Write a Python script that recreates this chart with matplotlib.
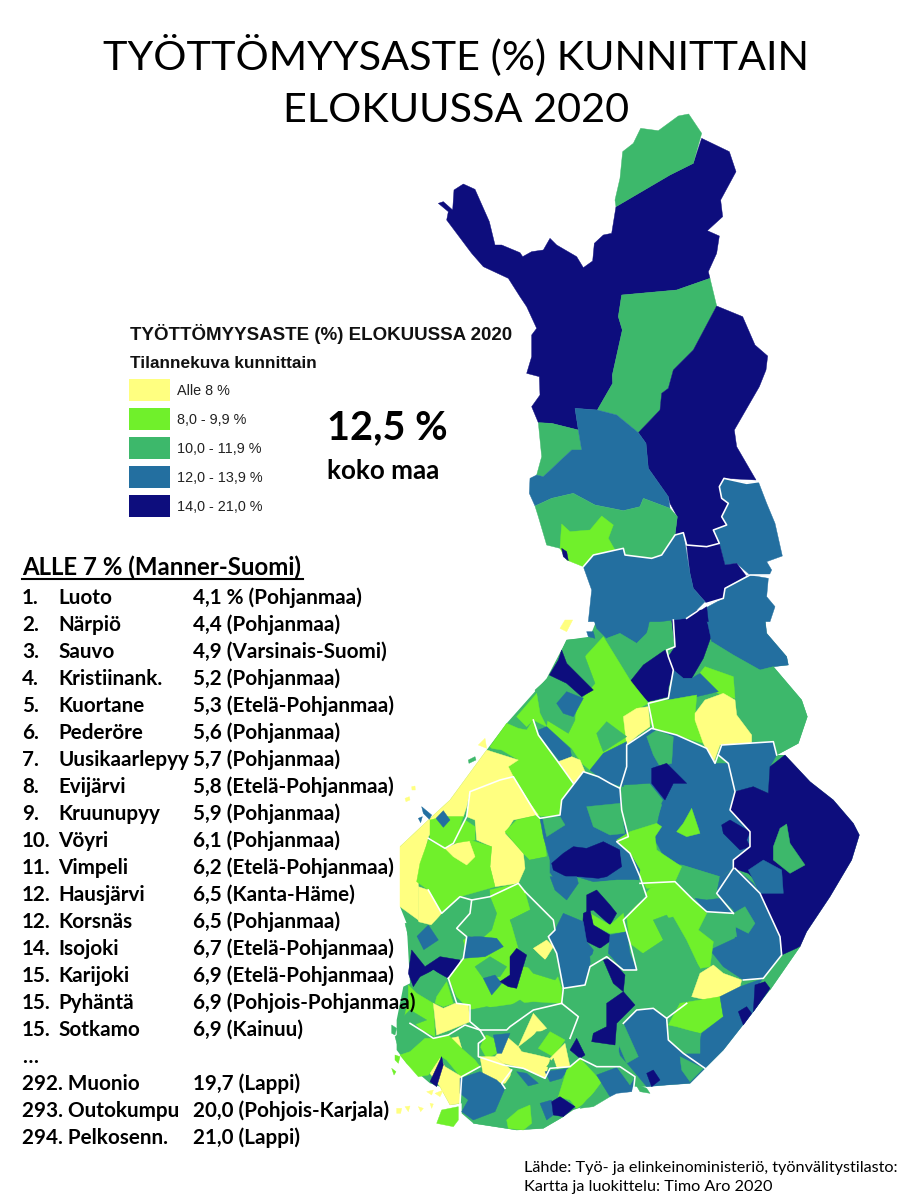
import matplotlib
matplotlib.use("Agg")
import matplotlib.pyplot as plt
from matplotlib.patches import Rectangle

# ---------- data ----------
TITLE = ["TYÖTTÖMYYSASTE (%) KUNNITTAIN", "ELOKUUSSA 2020"]
CLASS_LABELS = ["Alle 8 %", "8,0 - 9,9 %", "10,0 - 11,9 %", "12,0 - 13,9 %", "14,0 - 21,0 %"]
CLASS_COLORS = ["#FFFF80", "#70F02B", "#3DB86B", "#236FA0", "#0D0D7D"]
Y, B, G, L, N = 0, 1, 2, 3, 4

RANKS = ["1.", "2.", "3.", "4.", "5.", "6.", "7.", "8.", "9.", "10.", "11.", "12.", "12.", "14.", "15.", "15.", "15."]
TOWNS = ["Luoto", "Närpiö", "Sauvo", "Kristiinank.", "Kuortane", "Pederöre", "Uusikaarlepyy", "Evijärvi",
         "Kruunupyy", "Vöyri", "Vimpeli", "Hausjärvi", "Korsnäs", "Isojoki", "Karijoki", "Pyhäntä", "Sotkamo"]
RATES = ["4,1 % (Pohjanmaa)", "4,4 (Pohjanmaa)", "4,9 (Varsinais-Suomi)", "5,2 (Pohjanmaa)", "5,3 (Etelä-Pohjanmaa)",
         "5,6 (Pohjanmaa)", "5,7 (Pohjanmaa)", "5,8 (Etelä-Pohjanmaa)", "5,9 (Pohjanmaa)", "6,1 (Pohjanmaa)",
         "6,2 (Etelä-Pohjanmaa)", "6,5 (Kanta-Häme)", "6,5 (Pohjanmaa)", "6,7 (Etelä-Pohjanmaa)",
         "6,9 (Etelä-Pohjanmaa)", "6,9 (Pohjois-Pohjanmaa)", "6,9 (Kainuu)"]
WORST_NAMES = ["292. Muonio", "293. Outokumpu", "294. Pelkosenn."]
WORST_RATES = ["19,7 (Lappi)", "20,0 (Pohjois-Karjala)", "21,0 (Lappi)"]

# Map areas, in paint order: (rate class, outline)
NORTH_AREAS = [
 (N, [(115,310),(130,305),(158,330),(162,270),(190,252),(225,268),(268,365),(285,435),(305,435),(360,458),(368,470),(395,455),(430,450),(450,415),(470,435),(530,470),(550,503),(578,483),(583,430),(610,405),(635,400),(648,320),(810,225),(880,190),(905,115),(988,155),(1008,215),(962,300),(968,350),(922,392),(958,408),(950,460),(925,515),(930,535),(830,570),(665,585),(655,650),(667,690),(637,825),(638,850),(592,930),(525,925),(535,990),(455,970),(415,968),(395,920),(420,885),(418,830),(380,820),(395,770),(395,705),(410,685),(380,620),(360,590),(325,535),(250,500),(215,460),(185,420),(140,360),(145,335)]),
 (G, [(648,320),(645,300),(660,235),(668,155),(700,130),(722,85),(775,92),(835,48),(866,42),(905,100),(880,190),(810,225)]),
 (G, [(665,585),(830,570),(930,535),(950,618),(880,750),(820,810),(805,865),(785,880),(780,930),(715,998),(650,945),(592,930),(638,850),(637,825),(667,690),(655,650)]),
 (N, [(950,618),(1028,650),(1065,735),(1103,768),(1098,810),(1078,860),(1003,990),(1010,1040),(1068,1140),(972,1135),(958,1160),(965,1195),(985,1210),(965,1250),(980,1275),(940,1290),(958,1330),(920,1340),(860,1335),(850,1298),(825,1305),(832,1250),(810,1210),(805,1190),(745,1105),(738,1030),(715,998),(780,930),(785,880),(805,865),(820,810),(880,750)]),
 (G, [(415,968),(455,970),(535,990),(545,1050),(515,1050),(430,1130),(410,1125),(425,1070)]),
 (L, [(525,925),(592,930),(650,945),(715,998),(738,1030),(745,1105),(805,1190),(810,1225),(730,1195),(720,1220),(670,1232),(585,1215),(520,1180),(455,1195),(405,1218),(388,1180),(390,1135),(410,1125),(430,1130),(515,1050),(545,1050),(535,990)]),
 (G, [(405,1218),(455,1195),(520,1180),(585,1215),(670,1232),(720,1220),(730,1195),(810,1225),(832,1250),(825,1305),(785,1365),(755,1375),(675,1365),(670,1345),(580,1365),(550,1400),(480,1345),(440,1335),(415,1250)]),
 (B, [(480,1345),(485,1272),(510,1295),(570,1290),(605,1248),(640,1275),(625,1315),(645,1350),(580,1365),(550,1400),(500,1380)]),
 (N, [(485,1345),(500,1355),(505,1382),(490,1370)]),
 (L, [(972,1135),(1040,1150),(1075,1145),(1100,1210),(1125,1270),(1147,1368),(1100,1385),(1115,1410),(1108,1425),(1050,1425),(1010,1390),(975,1395),(958,1330),(940,1290),(980,1275),(965,1250),(985,1210),(965,1195),(958,1160)]),
 (N, [(860,1335),(920,1340),(958,1330),(975,1395),(1010,1390),(1040,1430),(975,1465),(970,1495),(920,1510),(880,1465),(870,1420)]),
 (L, [(550,1400),(580,1365),(670,1345),(675,1365),(755,1375),(785,1365),(825,1305),(850,1298),(870,1420),(880,1465),(915,1505),(890,1530),(860,1555),(780,1565),(565,1565),(575,1470)]),
 (L, [(915,1525),(970,1495),(975,1465),(1045,1425),(1105,1435),(1100,1490),(1125,1520),(1110,1565),(920,1565)]),
 (N, [(890,1540),(920,1520),(925,1565),(890,1565)]),
]

SOUTH_BASE = [(610,-5),(1125,-5),(1130,40),(1190,110),(1195,135),(1150,140),(1235,240),(1252,290),(1225,370),(1160,405),(1185,405),(1260,485),(1330,540),(1390,610),(1408,645),(1385,720),(1320,830),(1250,935),(1230,980),(1140,1110),(1090,1175),(1000,1290),(945,1345),(900,1390),(830,1395),(770,1400),(700,1400),(640,1440),(550,1470),(520,1490),(460,1525),(380,1530),(250,1510),(215,1480),(215,1450),(180,1455),(150,1400),(120,1390),(50,1330),(20,1290),(20,1200),(40,1100),(60,1090),(50,910),(30,860),(30,680),(115,600),(180,540),(290,390),(350,310),(470,175),(530,60),(600,50),(620,0)]

SOUTH_AREAS = [
 (L, [(610,-5),(780,-5),(770,40),(740,70),(690,40),(650,55),(620,25)]),
 (G, [(650,55),(690,40),(740,70),(770,40),(790,-5),(850,-5),(855,80),(820,90),(760,135),(720,175),(650,110)]),
 (N, [(920,-30),(950,-30),(950,0),(965,45),(940,115),(905,175),(880,175),(850,150),(835,110),(855,80),(845,0)]),
 (N, [(825,90),(835,110),(850,150),(835,205),(835,230),(775,245),(720,185),(760,135)]),
 (L, [(950,-5),(1125,-5),(1130,40),(1190,110),(1195,135),(1150,140),(1110,150),(1030,105),(965,65)]),
 (G, [(965,65),(1030,105),(1110,150),(1150,140),(1235,240),(1252,290),(1225,370),(1160,405),(1150,365),(1085,375),(1085,345),(1040,280),(1035,200),(1030,170),(945,140)]),
 (B, [(945,140),(1030,170),(1035,235),(1000,225),(940,205),(925,165)]),
 (L, [(880,175),(905,175),(930,160),(985,215),(920,230),(835,240),(850,150)]),
 (B, [(780,245),(835,240),(920,225),(915,290),(940,370),(790,325),(780,310)]),
 (Y, [(915,280),(945,240),(1000,220),(1035,240),(1040,285),(1085,345),(1085,375),(990,375),(970,430),(940,370),(915,300)]),
 (B, [(585,110),(640,50),(720,180),(775,250),(700,290),(710,375),(640,400),(600,450),(575,430),(545,385),(470,320),(480,270),(555,300)]),
 (Y, [(700,290),(740,265),(775,260),(780,320),(745,345),(710,375)]),
 (L, [(985,405),(995,375),(1150,365),(1160,405),(1140,440),(1135,520),(1090,500),(1035,515),(1015,430)]),
 (G, [(530,60),(590,55),(585,110),(615,190),(550,265),(555,300),(535,340),(470,300),(440,240),(435,210),(480,170)]),
 (N, [(515,90),(530,130),(610,210),(575,230),(530,190),(478,165),(505,120)]),
 (L, [(500,250),(530,215),(580,235),(550,290),(520,280)]),
 (B, [(380,290),(440,220),(450,280),(470,320),(430,300),(410,320)]),
 (L, [(445,330),(470,320),(540,385),(545,410),(515,430),(490,400),(450,350)]),
 (G, [(620,340),(650,305),(710,350),(640,395),(630,370)]),
 (Y, [(505,425),(545,410),(570,420),(585,455),(550,490)]),
 (L, [(600,450),(640,400),(710,365),(700,500),(660,490),(625,470)]),
 (B, [(300,380),(350,310),(385,325),(410,330),(430,300),(445,345),(500,420),(550,490),(515,540),(510,585),(460,590),(440,585),(420,550),(370,470),(355,440),(385,420),(335,390),(305,385)]),
 (Y, [(290,390),(385,420),(355,440),(370,470),(330,480),(240,515),(230,560),(220,590),(160,590),(115,650),(85,780),(85,900),(30,860),(30,680),(115,600),(180,540)]),
 (Y, [(240,515),(330,480),(370,470),(420,550),(445,585),(370,600),(345,640),(400,700),(405,745),(385,790),(315,800),(300,740),(305,680),(260,660),(255,600),(230,590)]),
 (B, [(345,635),(380,600),(445,585),(460,630),(470,710),(420,720),(400,700)]),
 (B, [(115,660),(165,685),(240,660),(305,680),(300,740),(315,800),(210,830),(155,880),(115,810),(80,785),(90,730)]),
 (Y, [(165,685),(235,655),(255,710),(230,735),(190,710)]),
 (B, [(120,600),(160,590),(220,590),(190,670),(165,685),(120,655)]),
 (B, [(225,600),(255,620),(255,660),(190,670),(205,625)]),
 (L, [(138,595),(160,572),(180,600),(160,622)]),
 (Y, [(85,800),(115,810),(155,880),(125,915),(85,905)]),
 (G, [(405,780),(420,720),(470,710),(480,760),(470,785),(425,790)]),
 (L, [(515,540),(580,455),(630,475),(690,505),(695,545),(690,580),(715,650),(680,665),(720,700),(750,750),(745,780),(680,780),(610,785),(560,770),(480,780),(480,720),(460,650),(450,595),(510,585)]),
 (G, [(457,590),(510,590),(525,615),(470,650)]),
 (G, [(590,560),(690,550),(705,640),(660,645),(610,620)]),
 (N, [(485,730),(520,700),(550,680),(590,685),(640,665),(690,690),(695,740),(650,770),(625,775),(570,770),(530,770),(490,750)]),
 (L, [(710,375),(785,325),(860,345),(950,385),(975,430),(1015,430),(1035,515),(1020,570),(1080,635),(1080,680),(1030,720),(1030,745),(990,770),(880,735),(830,725),(795,660),(800,620),(815,550),(820,540),(780,490),(700,495)]),
 (G, [(770,350),(800,330),(850,350),(845,430),(810,440),(790,405)]),
 (N, [(785,445),(830,430),(890,490),(850,490),(825,540),(785,490)]),
 (G, [(695,510),(745,495),(780,495),(815,555),(800,600),(720,635),(700,590)]),
 (B, [(880,610),(905,565),(915,595),(930,640),(890,650),(860,635)]),
 (B, [(680,660),(720,635),(800,610),(815,620),(795,650),(800,690),(875,740),(855,785),(820,800),(770,805),(750,770),(720,700)]),
 (G, [(875,735),(990,770),(975,820),(1030,880),(950,875),(910,840)]),
 (N, [(995,615),(1020,600),(1080,635),(1070,660),(1080,680),(1050,690),(1000,640)]),
 (N, [(1135,520),(1140,440),(1185,405),(1260,485),(1330,540),(1390,610),(1408,645),(1385,720),(1320,830),(1250,935),(1230,980),(1175,1005),(1170,950),(1110,820),(1090,775),(1075,760),(1030,745),(1030,720),(1080,680),(1080,635),(1020,570),(1035,515),(1090,500)]),
 (L, [(1075,750),(1120,720),(1175,750),(1180,820),(1110,820)]),
 (G, [(1150,680),(1170,625),(1190,612),(1200,670),(1245,735),(1200,760),(1150,720)]),
 (L, [(1035,745),(1090,790),(1110,820),(1170,950),(1175,1005),(1120,1075),(1060,1080),(1000,1040),(960,990),(1035,955),(1040,900),(1030,870),(980,820),(990,770)]),
 (G, [(1030,880),(1065,860),(1095,910),(1075,940),(1035,920)]),
 (L, [(915,835),(950,840),(990,835),(1030,880),(950,875)]),
 (G, [(925,930),(950,880),(1030,880),(1040,950),(960,960)]),
 (B, [(710,890),(780,805),(855,785),(910,840),(950,880),(925,930),(970,965),(960,1040),(930,1045),(890,960),(850,890),(790,900),(820,960),(760,1000),(720,970)]),
 (G, [(790,900),(830,885),(870,960),(930,1045),(905,1130),(890,1150),(830,1195),(790,1165),(740,1160),(705,1120),(710,1050),(745,1050),(730,1000),(760,1000),(820,960)]),
 (Y, [(905,1130),(930,1060),(970,1035),(1000,1060),(1055,1080),(1050,1100),(990,1130),(950,1140)]),
 (B, [(870,1150),(990,1130),(1000,1190),(930,1240),(860,1220),(835,1215)]),
 (L, [(990,1130),(1050,1100),(1120,1075),(1140,1105),(1090,1175),(1000,1290),(945,1345),(880,1300),(930,1260),(935,1240),(1000,1190)]),
 (G, [(1120,1075),(1230,980),(1140,1110),(1110,1090)]),
 (N, [(1095,1095),(1125,1085),(1140,1105),(1090,1175)]),
 (N, [(1045,1175),(1070,1160),(1085,1180),(1060,1215)]),
 (G, [(835,1220),(930,1240),(930,1300),(880,1300),(835,1260)]),
 (L, [(700,1210),(740,1170),(790,1165),(830,1195),(835,1260),(880,1300),(945,1345),(900,1390),(830,1395),(770,1400),(720,1340),(685,1300)]),
 (G, [(870,1310),(940,1345),(900,1385),(875,1350)]),
 (N, [(770,1360),(790,1350),(810,1380),(785,1400)]),
 (G, [(680,1260),(700,1210),(745,1310),(710,1330)]),
 (G, [(405,815),(445,780),(480,760),(530,830),(590,790),(680,780),(745,780),(770,830),(720,870),(700,900),(590,880),(520,880),(495,930),(490,900)]),
 (L, [(480,770),(560,770),(565,790),(530,840),(495,810)]),
 (L, [(690,690),(720,700),(750,750),(745,780),(700,760)]),
 (N, [(590,825),(620,810),(660,855),(680,880),(660,915),(610,870),(590,875)]),
 (B, [(600,880),(660,915),(700,880),(710,935),(660,940),(610,915)]),
 (N, [(580,880),(600,870),(610,915),(660,945),(665,960),(630,985),(590,965),(578,920)]),
 (L, [(475,950),(495,930),(520,880),(580,905),(590,965),(610,990),(585,1095),(520,1105),(500,1000)]),
 (L, [(660,945),(710,935),(720,1000),(740,1050),(700,1050),(655,1000)]),
 (G, [(600,1010),(630,985),(650,985),(640,1020),(605,1040)]),
 (G, [(520,1105),(585,1095),(605,1040),(640,1030),(705,1120),(735,1155),(700,1210),(680,1260),(695,1340),(610,1340),(590,1300),(560,1250),(560,1185),(520,1150)]),
 (N, [(640,1020),(660,1015),(705,1065),(700,1115),(670,1090)]),
 (N, [(650,1150),(700,1115),(735,1155),(680,1210),(675,1275),(605,1265),(610,1240),(650,1220)]),
 (N, [(540,1290),(560,1255),(585,1305),(570,1315)]),
 (G, [(125,915),(210,830),(245,840),(240,880),(200,925),(230,950),(215,1000),(130,1000)]),
 (L, [(80,950),(115,915),(145,960),(100,990)]),
 (G, [(45,910),(85,905),(80,950),(100,990),(130,1000),(65,990)]),
 (N, [(65,990),(105,1040),(150,1010),(210,1020),(205,1045),(175,1075),(130,1050),(90,1070),(70,1100),(55,1060)]),
 (B, [(300,810),(385,790),(405,815),(420,870),(360,900),(400,1040),(500,1060),(515,1105),(515,1150),(430,1145),(380,1150),(310,1160),(240,1170),(200,1130),(175,1075),(230,1000),(220,960),(305,920)]),
 (G, [(245,840),(300,830),(320,880),(305,930),(270,960),(205,925),(240,880)]),
 (L, [(230,950),(270,950),(320,955),(340,980),(285,1010),(220,1015)]),
 (G, [(360,900),(420,870),(485,930),(460,960),(430,990),(400,985)]),
 (Y, [(430,985),(470,960),(490,980),(465,1020)]),
 (G, [(400,985),(430,990),(465,1020),(490,1000),(510,1060),(495,1080),(430,1060),(405,1030)]),
 (G, [(255,1040),(300,1010),(350,1040),(330,1070),(280,1075)]),
 (L, [(280,1075),(315,1065),(335,1090),(305,1125)]),
 (N, [(360,1010),(380,985),(410,1005),(380,1105),(355,1100),(330,1085),(360,1065)]),
 (Y, [(510,25),(525,0),(548,0),(530,35)]),
 (L, [(590,35),(610,35),(615,55),(595,50)]),
 (Y, [(265,375),(285,355),(290,385)]),
 (G, [(235,420),(255,410),(258,420),(237,430)]),
 (L, [(95,560),(125,585),(118,598),(100,580)]),
 (L, [(85,595),(97,590),(92,608)]),
 (Y, [(45,535),(58,530),(60,540),(48,545)]),
 (Y, [(65,500),(75,498),(76,510),(66,510)]),
]

SW_AREAS = [
 (B, [(55,75),(80,100),(130,130),(135,230),(95,210),(70,185),(40,185),(55,120)]),
 (G, [(30,180),(60,150),(110,180),(70,195),(30,190)]),
 (G, [(80,70),(130,30),(170,60),(140,110),(110,115)]),
 (B, [(140,110),(170,65),(190,130),(160,140),(135,130)]),
 (Y, [(130,130),(160,145),(195,130),(235,135),(240,185),(180,210),(140,225)]),
 (G, [(240,150),(290,140),(340,150),(390,120),(430,150),(415,175),(360,200),(350,215),(280,210),(245,190)]),
 (G, [(430,150),(500,135),(565,165),(540,230),(470,205),(440,170)]),
 (G, [(360,200),(415,175),(385,255),(365,235)]),
 (Y, [(385,260),(430,160),(470,205),(430,225)]),
 (G, [(400,265),(440,215),(490,215),(530,240),(500,280),(465,300),(440,285)]),
 (B, [(445,265),(480,215),(525,240),(490,290)]),
 (Y, [(315,290),(340,260),(350,230),(385,260),(395,275),(440,285),(480,295),(465,355),(400,325),(340,310)]),
 (Y, [(480,295),(525,250),(540,320),(500,325)]),
 (G, [(470,320),(490,295),(500,325)]),
 (B, [(265,250),(290,225),(320,240),(320,280),(290,295)]),
 (L, [(310,225),(360,220),(335,280),(322,280)]),
 (G, [(180,215),(225,195),(280,235),(255,300),(215,265),(205,230)]),
 (Y, [(180,235),(205,230),(215,265),(190,250)]),
 (G, [(15,230),(60,195),(105,235),(60,275),(25,265)]),
 (B, [(30,285),(60,275),(105,235),(130,235),(175,225),(215,265),(255,300),(270,320),(215,355),(170,300),(155,290),(115,345),(85,350),(50,310)]),
 (Y, [(120,340),(150,295),(165,320),(215,350),(210,430),(180,435),(150,380)]),
 (N, [(155,290),(160,315),(140,380),(120,365)]),
 (Y, [(270,290),(315,290),(365,330),(355,370),(335,370),(280,345)]),
 (G, [(340,380),(375,330),(445,370),(505,395),(540,430),(520,470),(460,505),(380,510),(250,490),(315,455)]),
 (L, [(210,355),(270,335),(320,360),(345,385),(315,455),(250,480),(215,455),(235,420),(210,400)]),
 (L, [(380,335),(410,340),(445,370),(415,378)]),
 (L, [(465,335),(535,325),(515,355),(480,365)]),
 (B, [(505,410),(530,330),(570,295),(635,365),(590,425),(560,445),(540,420)]),
 (G, [(590,420),(640,375),(660,410),(610,440),(570,445)]),
 (L, [(620,345),(700,315),(735,350),(725,395),(680,400),(660,410),(635,370)]),
 (G, [(680,320),(705,310),(735,350),(720,375)]),
 (L, [(450,430),(485,420),(490,465),(470,480)]),
 (N, [(485,425),(510,410),(555,440),(520,470),(490,465)]),
 (B, [(350,480),(385,450),(420,435),(425,490),(400,510),(355,505)]),
 (B, [(140,490),(155,450),(205,440),(205,480),(190,500)]),
 (G, [(735,370),(770,385),(780,400),(750,395)]),
 (Y, [(20,445),(35,445),(32,460),(20,460)]),
 (Y, [(45,440),(60,438),(55,455)]),
 (Y, [(85,440),(100,445),(92,455)]),
 (Y, [(120,430),(130,432),(125,445)]),
 (Y, [(135,400),(160,390),(150,410)]),
 (Y, [(110,395),(130,390),(125,405)]),
 (B, [(15,285),(30,290),(25,310),(15,300)]),
 (B, [(5,325),(18,335),(12,345)]),
 (G, [(5,195),(20,205),(15,225),(5,220)]),
]

NORTH_BORDERS = [
 [(550,1400),(580,1365),(670,1345),(675,1365),(755,1375),(785,1365),(825,1305),(850,1298),(860,1335),(920,1340),(958,1330),(940,1290),(980,1275),(965,1250),(985,1210),(965,1195),(958,1160),(972,1135),(1040,1150),(1075,1145)],
 [(1115,1425),(1050,1425),(975,1465),(970,1495),(920,1510),(890,1535),(860,1555)],
]
SOUTH_BORDERS = [
 [(1160,405),(1150,365),(995,375),(975,430),(950,385),(860,345),(785,325),(710,375),(710,440),(690,505),(660,490),(625,470),(580,455),(515,540),(510,585),(450,595),(440,585),(370,470),(330,480),(240,515),(230,590),(190,670),(165,685),(115,655)],
 [(790,325),(775,250),(835,235),(850,150),(835,110),(830,90),(855,80),(850,0)],
 [(690,505),(695,570),(715,650),(680,665),(720,700),(750,770),(770,830),(700,900),(720,970),(740,1050),(700,1050),(650,1010),(600,1040),(585,1095),(520,1105),(515,1150)],
 [(985,405),(1015,430),(1035,515),(1020,570),(1080,635),(1080,680),(1030,720),(1030,745),(980,820),(1030,880)],
 [(1035,745),(1110,820),(1170,950),(1175,1005),(1120,1075),(1060,1080)],
 [(750,790),(855,785),(910,840),(950,875),(1030,880)],
 [(700,1210),(740,1170),(790,1165),(830,1195),(890,1150)],
 [(830,1195),(835,1260),(880,1300),(945,1345)],
 [(115,810),(155,880),(210,830),(245,840),(300,830),(385,790),(405,815)],
 [(245,840),(240,880),(200,925),(230,950),(220,1015),(175,1075)],
 [(405,815),(490,900),(495,930),(475,950),(500,1000),(520,1105)],
 [(430,300),(445,345),(500,420),(550,490)],
]
SW_BORDERS = [
 [(175,55),(200,130),(240,135),(240,185),(270,210),(285,235),(265,250),(265,290),(340,315),(400,325),(465,355),(480,325),(540,320),(570,295),(620,320),(690,320),(735,350),(730,395)],
 [(60,190),(100,215),(130,235),(175,225),(225,195),(270,210)],
 [(515,130),(565,170),(540,235)],
 [(515,130),(430,150),(360,200),(350,210),(270,210)],
 [(270,320),(215,350),(210,430)],
 [(345,385),(335,370),(365,330)],
]

# ---------- drawing ----------
plt.rcParams["font.family"] = ["Lato", "DejaVu Sans"]
fig = plt.figure(figsize=(9, 12), dpi=100)
ax = fig.add_axes([0, 0, 1, 1])
ax.set_xlim(0, 900)
ax.set_ylim(1200, 0)
ax.axis("off")


def north(pts):
    return [(400 + x / 3, 100 + y / 3) for x, y in pts]


def south(pts):
    return [(390 + x / 3, 620 + y / 3) for x, y in pts]


def southwest(pts):
    return [(390 + x / 3, 960 + y / 3) for x, y in pts]


def paint(areas, convert):
    for cls, pts in areas:
        xs, ys = zip(*convert(pts))
        ax.fill(xs, ys, color=CLASS_COLORS[cls], lw=0.3, joinstyle="round")


def borders(lines, convert):
    for pts in lines:
        xs, ys = zip(*convert(pts))
        ax.plot(xs, ys, color="white", lw=1.15, solid_joinstyle="round")


xs, ys = zip(*south(SOUTH_BASE))
ax.fill(xs, ys, color=CLASS_COLORS[G], lw=0)
paint(SOUTH_AREAS, south)
paint(SW_AREAS, southwest)
paint(NORTH_AREAS, north)
borders(SOUTH_BORDERS, south)
borders(SW_BORDERS, southwest)
borders(NORTH_BORDERS, north)

# title
for text, y in zip(TITLE, [69, 122]):
    ax.text(456, y, text, ha="center", va="baseline", fontsize=29.8, color="black")

# legend
LEG = ["Liberation Sans"]
ax.text(130, 334, "TYÖTTÖMYYSASTE (%) ELOKUUSSA 2020", family=LEG, fontsize=13.5, weight="bold", va="center", color="#111111")
ax.text(130, 363, "Tilannekuva kunnittain", family=LEG, fontsize=12.4, weight="bold", va="center", color="#111111")
for i, (label, color) in enumerate(zip(CLASS_LABELS, CLASS_COLORS)):
    y0 = 379 + i * 29
    ax.add_patch(Rectangle((129, y0), 41, 22, color=color, lw=0))
    ax.text(177, y0 + 12, label, family=LEG, fontsize=10.4, va="center", color="#222222")

ax.text(327, 439, "12,5 %", fontsize=28.6, weight="bold", va="baseline", color="black")
ax.text(327, 479, "koko maa", fontsize=18.7, weight="bold", va="baseline", color="black")

# ranking table
ROW = dict(fontsize=14.9, weight="bold", va="baseline", color="black")
ax.text(22, 575, "ALLE 7 % (Manner-Suomi)", fontsize=17.3, weight="bold", va="baseline", color="black")
ax.plot([22, 303], [578.5, 578.5], color="black", lw=1.5)
for i, (rank, town, rate) in enumerate(zip(RANKS, TOWNS, RATES)):
    y = 604 + i * 27
    ax.text(22, y, rank, **ROW)
    ax.text(58, y, town, **ROW)
    ax.text(193, y, rate, **ROW)
ax.text(22, 604 + 17 * 27, "…", **ROW)
for i, (name, rate) in enumerate(zip(WORST_NAMES, WORST_RATES)):
    y = 604 + (18 + i) * 27
    ax.text(22, y, name, **ROW)
    ax.text(193, y, rate, **ROW)

# source
ax.text(524, 1172, "Lähde: Työ- ja elinkeinoministeriö, työnvälitystilasto:", fontsize=11.7, va="baseline", color="black")
ax.text(524, 1191, "Kartta ja luokittelu: Timo Aro 2020", fontsize=11.7, va="baseline", color="black")

fig.savefig("out.png", dpi=100, facecolor="white")
